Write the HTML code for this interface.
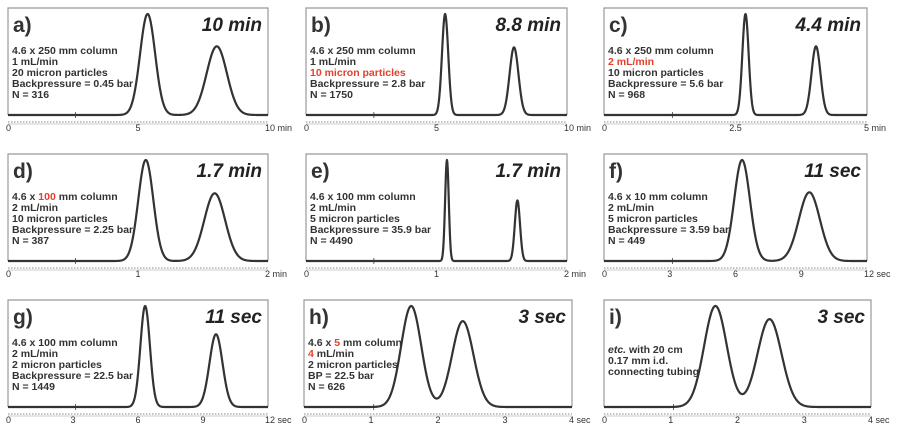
<!DOCTYPE html>
<html><head><meta charset="utf-8">
<style>
html,body{margin:0;padding:0;background:#fff;}
svg{display:block;font-family:"Liberation Sans",sans-serif;}
.info{font-size:10.5px;font-weight:bold;fill:#333;}
.red{fill:#e2412b;}
.lab{font-size:21px;font-weight:bold;fill:#333;}
.ttl{font-size:19px;font-weight:bold;font-style:italic;fill:#222;}
.tick{font-size:9px;fill:#333;}
</style></head>
<body>
<svg id="chart" width="900" height="434" viewBox="0 0 900 434"></svg>
<script>
// Panel data
const panelIds = ["a","b","c","d","e","f","g","h","i"];
const titles = ["10 min","8.8 min","4.4 min","1.7 min","1.7 min","11 sec","11 sec","3 sec","3 sec"];
const axisMax = [10,10,5,2,2,12,12,4,4];
const axisUnit = ["min","min","min","min","min","sec","sec","sec","sec"];
const tickVals = [[0,5,10],[0,5,10],[0,2.5,5],[0,1,2],[0,1,2],[0,3,6,9,12],[0,3,6,9,12],[0,1,2,3,4],[0,1,2,3,4]];
const tickLabels = [["0","5","10 min"],["0","5","10 min"],["0","2.5","5 min"],["0","1","2 min"],["0","1","2 min"],["0","3","6","9","12 sec"],["0","3","6","9","12 sec"],["0","1","2","3","4 sec"],["0","1","2","3","4 sec"]];
const peak1Time = [5.37,5.33,2.69,1.06,1.08,6.3,6.33,1.6,1.67];
const peak2Time = [8.03,7.97,4.03,1.59,1.62,9.37,9.6,2.37,2.48];
const peak1Height = [1,1,1,1,1,1,1,1,1];
const peak2Height = [0.68,0.67,0.68,0.67,0.6,0.68,0.72,0.85,0.87];
const peak1Sigma = [0.29,0.12,0.06,0.058,0.014,0.36,0.22,0.15,0.17];
const peak2Sigma = [0.39,0.17,0.085,0.08,0.02,0.48,0.3,0.16,0.18];
const infoLines = [
 [["4.6 x 250 mm column"],["1 mL/min"],["20 micron particles"],["Backpressure = 0.45 bar"],["N = 316"]],
 [["4.6 x 250 mm column"],["1 mL/min"],["","10 micron particles"],["Backpressure = 2.8 bar"],["N = 1750"]],
 [["4.6 x 250 mm column"],["","2 mL/min"],["10 micron particles"],["Backpressure = 5.6 bar"],["N = 968"]],
 [["4.6 x ","100"," mm column"],["2 mL/min"],["10 micron particles"],["Backpressure = 2.25 bar"],["N = 387"]],
 [["4.6 x 100 mm column"],["2 mL/min"],["5 micron particles"],["Backpressure = 35.9 bar"],["N = 4490"]],
 [["4.6 x 10 mm column"],["2 mL/min"],["5 micron particles"],["Backpressure = 3.59 bar"],["N = 449"]],
 [["4.6 x 100 mm column"],["2 mL/min"],["2 micron particles"],["Backpressure = 22.5 bar"],["N = 1449"]],
 [["4.6 x ","5"," mm column"],["","4"," mL/min"],["2 micron particles"],["BP = 22.5 bar"],["N = 626"]],
 [["etc. with 20 cm"],["0.17 mm i.d."],["connecting tubing"]]
];
// layout (not data)
const colX = [[8,268],[306,567],[604,867]];
const colXb = [[8,268],[304,572],[604,871]];
const rowTop = [8,154,300];
const NS="http://www.w3.org/2000/svg";
const svg=document.getElementById('chart');
function mk(tag,attrs,parent){const e=document.createElementNS(NS,tag);for(const k in attrs)e.setAttribute(k,attrs[k]);(parent||svg).appendChild(e);return e;}

panelIds.forEach((id,p)=>{
  const r=Math.floor(p/3),c=p%3;
  const [x0,x1]=(r===2?colXb:colX)[c];
  const top=rowTop[r], base=top+107, ruler=top+114;
  const g=mk('g',{});
  
  
  const box=mk('path',{d:`M${x0},${base} L${x0},${top} L${x1},${top} L${x1},${base}`,fill:'none',stroke:'#999','stroke-width':1.2},g);
  
  
  const xs=t=>x0+(t/axisMax[p])*(x1-x0);
  const ys=v=>base-v*(base-top-6);
  const rl=mk('line',{x1:x0,x2:x1,y1:ruler,y2:ruler,stroke:'#888','stroke-width':1,'stroke-dasharray':'1.5 1.5'},g);
  
  
  mk('line',{x1:x0,x2:x1,y1:ruler+2,y2:ruler+2,stroke:'#bbb','stroke-width':0.8},g);
  tickVals[p].forEach((v,i)=>{
    const tx=xs(v);
    const last=i===tickVals[p].length-1;
    const t=mk('text',{x:last?tx-3:(i===0?tx-2:tx),y:ruler+9,'text-anchor':(i===0||last)?'start':'middle',class:'tick'},g);
    t.textContent=tickLabels[p][i];
    
    
  });
  mk('line',{x1:x0+(x1-x0)*0.26,x2:x0+(x1-x0)*0.26,y1:base-3,y2:base+3,stroke:'#444','stroke-width':0.8},g);
  let d='';
  const N=700;
  for(let k=0;k<=N;k++){
    const t=axisMax[p]*k/N;
    const v=peak1Height[p]*Math.exp(-0.5*Math.pow((t-peak1Time[p])/peak1Sigma[p],2))+peak2Height[p]*Math.exp(-0.5*Math.pow((t-peak2Time[p])/peak2Sigma[p],2));
    d+=(k?'L':'M')+xs(t).toFixed(2)+','+ys(v).toFixed(2);
  }
  const tr=mk('path',{d:d,fill:'none',stroke:'#333','stroke-width':2.2,'stroke-linejoin':'round'},g);
  
  
  const lb=mk('text',{x:x0+5,y:top+24,class:'lab'},g);
  lb.textContent=id+')';
  
  
  const tt=mk('text',{x:x1-6,y:top+23,'text-anchor':'end',class:'ttl'},g);
  tt.textContent=titles[p];
  
  
  const lines=infoLines[p];
  const startY = p===8? top+53 : top+46;
  lines.forEach((parts,li)=>{
    const te=mk('text',{x:x0+4,y:startY+li*11,class:'info'},g);
    
    
    parts.forEach((s,si)=>{
      if(s==='')return;
      const sp=mk('tspan',{},te);
      if(si===1)sp.setAttribute('class','red');
      if(p===8&&li===0){ sp.textContent='etc.'; sp.setAttribute('font-style','italic'); const s2=mk('tspan',{},te); s2.textContent=' with 20 cm'; return;}
      sp.textContent=s;
    });
  });
});
</script>
</body></html>
